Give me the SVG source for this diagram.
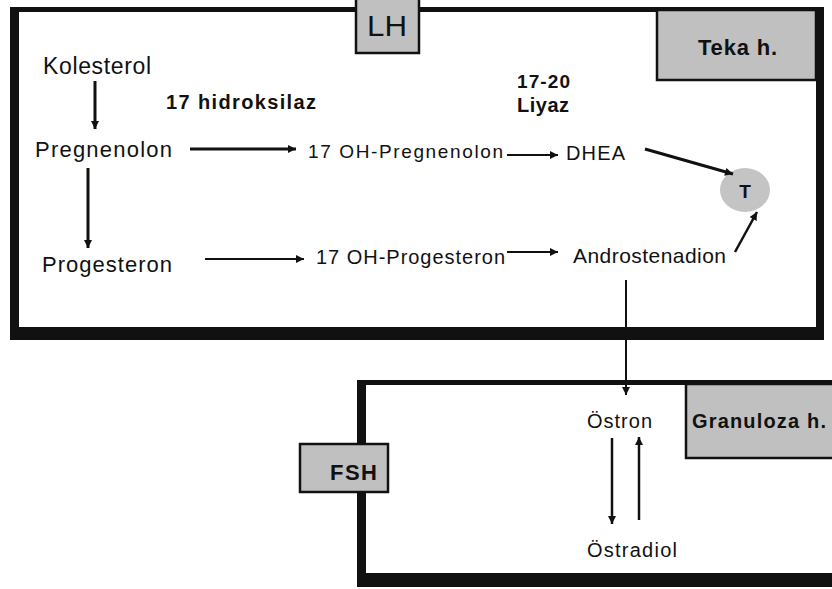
<svg xmlns="http://www.w3.org/2000/svg" width="832" height="589" viewBox="0 0 832 589">
<style>
.t{font-family:"Liberation Sans",Arial,sans-serif;fill:#111;}
.b{font-weight:bold;}
.box{fill:#c0c0c0;stroke:#111;stroke-width:2.5;}
.ln{fill:none;stroke:#111;}
</style>
<defs>
<marker id="ah" viewBox="0 0 10 10" refX="10" refY="5" markerWidth="9" markerHeight="8" markerUnits="userSpaceOnUse" orient="auto">
<path d="M0,0 L10,5 L0,10 z" fill="#111"/>
</marker>
</defs>
<rect width="832" height="589" fill="#fff"/>
<g id="teka-frame">
<rect x="10" y="7" width="814" height="333" fill="#111"/>
<rect x="19" y="12" width="797" height="315" fill="#fff"/>
</g>
<g id="granuloza-frame">
<rect x="357" y="380" width="480" height="207" fill="#111"/>
<rect x="366" y="385" width="470" height="188" fill="#fff"/>
</g>
<g id="LH">
<rect class="box" x="356" y="-3" width="63" height="56"/>
<text class="t" x="367" y="36" font-size="29" textLength="40" lengthAdjust="spacingAndGlyphs">LH</text>
</g>
<g id="teka">
<rect class="box" x="657" y="10" width="159" height="70"/>
<text class="t b" x="698" y="55" font-size="22" textLength="79">Teka h.</text>
</g>
<g id="granuloza">
<rect class="box" x="686" y="384" width="150" height="74"/>
<text class="t b" x="692" y="428" font-size="20" textLength="134">Granuloza h.</text>
</g>
<g id="FSH">
<rect class="box" x="300" y="444" width="88" height="48"/>
<text class="t b" x="330" y="480" font-size="22" textLength="47">FSH</text>
</g>
<g id="kolesterol"><text class="t" x="43" y="74" font-size="23" textLength="108">Kolesterol</text></g>
<g id="hidroksilaz"><text class="t b" x="166" y="109" font-size="20" textLength="150">17  hidroksilaz</text></g>
<g id="liyaz">
<text class="t b" x="517" y="88" font-size="19" textLength="53">17-20</text>
<text class="t b" x="517" y="112" font-size="20" textLength="52">Liyaz</text>
</g>
<g id="pregnenolon"><text class="t" x="35" y="157" font-size="22" textLength="137">Pregnenolon</text></g>
<g id="oh-pregnenolon"><text class="t" x="308" y="158" font-size="19" textLength="195">17 OH-Pregnenolon</text></g>
<g id="DHEA"><text class="t" x="566" y="160" font-size="20" textLength="59">DHEA</text></g>
<g id="T">
<ellipse cx="745" cy="190" rx="25" ry="22" fill="#c4c4c4"/>
<text class="t b" x="745" y="198" font-size="19" text-anchor="middle">T</text>
</g>
<g id="progesteron"><text class="t" x="42" y="272" font-size="22" textLength="130">Progesteron</text></g>
<g id="oh-progesteron"><text class="t" x="316" y="264" font-size="20" textLength="189">17 OH-Progesteron</text></g>
<g id="androstenadion"><text class="t" x="573" y="263" font-size="21" textLength="153">Androstenadion</text></g>
<g id="ostron"><text class="t" x="587" y="428" font-size="20" textLength="65">Östron</text></g>
<g id="ostradiol"><text class="t" x="587" y="557" font-size="20" textLength="90">Östradiol</text></g>
<g id="connectors">
<line class="ln" x1="95" y1="81" x2="95" y2="129" stroke-width="3" marker-end="url(#ah)"/>
<line class="ln" x1="88" y1="168" x2="88" y2="248" stroke-width="3" marker-end="url(#ah)"/>
<line class="ln" x1="190" y1="149" x2="296" y2="149" stroke-width="3" marker-end="url(#ah)"/>
<line class="ln" x1="507" y1="155" x2="558" y2="155" stroke-width="2" stroke="#444" marker-end="url(#ah)"/>
<line class="ln" x1="645" y1="149" x2="733" y2="174" stroke-width="3" marker-end="url(#ah)"/>
<line class="ln" x1="205" y1="259" x2="304" y2="259" stroke-width="2" marker-end="url(#ah)"/>
<line class="ln" x1="507" y1="252" x2="558" y2="252" stroke-width="2" stroke="#444" marker-end="url(#ah)"/>
<line class="ln" x1="735" y1="252" x2="757" y2="212" stroke-width="2.5" marker-end="url(#ah)"/>
<line class="ln" x1="626" y1="280" x2="626" y2="395" stroke-width="2" stroke="#777" marker-end="url(#ah)"/>
<line class="ln" x1="612" y1="438" x2="612" y2="524" stroke-width="2.5" marker-end="url(#ah)"/>
<line class="ln" x1="639" y1="520" x2="639" y2="437" stroke-width="2.5" marker-end="url(#ah)"/>
</g>
</svg>
